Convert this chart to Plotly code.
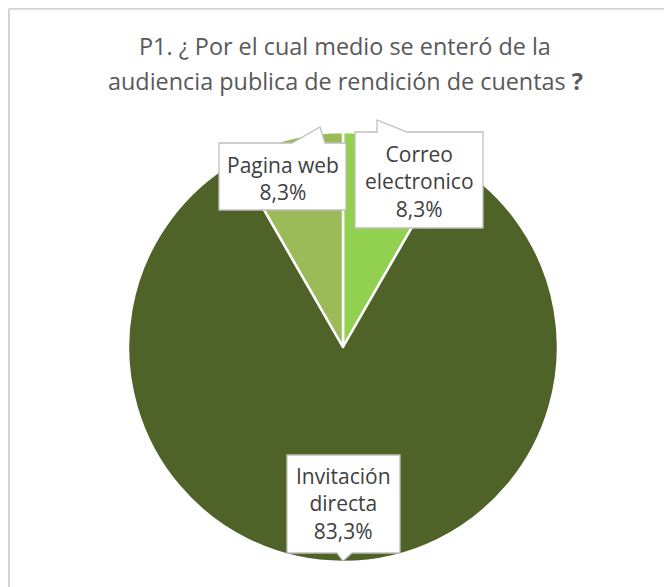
import plotly.graph_objects as go

# datos del grafico
categorias = ["Correo<br>electronico", "Invitación<br>directa", "Pagina web"]
porcentajes = [8.3, 83.3, 8.3]
colores = ["#92D050", "#4F6228", "#9BBB59"]

titulo_1 = "P1. ¿ Por el cual medio se enteró de la"
titulo_2 = "audiencia publica de rendición de cuentas <b>?</b>"

# la pagina html deja 8px de margen en el body
OFF = 8
W, H = 672 - OFF, 587 - OFF


def px(x):
    return (x - OFF) / W


def py(y):
    return 1 - (y - OFF) / H


fig = go.Figure()
fig.add_trace(go.Pie(
    labels=categorias,
    values=porcentajes,
    marker=dict(colors=colores, line=dict(color="white", width=2.5)),
    sort=False,
    direction="clockwise",
    rotation=0,
    textinfo="none",
    hoverinfo="label+percent",
    showlegend=False,
    domain=dict(x=[px(128), px(558)], y=[py(562), py(132)]),
))

# callouts: caja + punta (en pixeles de la imagen), mismo orden que categorias
callouts = [
    (355, 132, 483, 228, [(377, 132), (377, 120), (407, 132)]),
    (287, 455, 400, 553, [(337, 553), (343, 561), (352, 553)]),
    (219, 143, 346, 210, [(292, 143), (320, 127), (325, 143)]),
]
centros = [(419, 181), (343.5, 503), (282.5, 178)]

shapes = []
for (x0, y0, x1, y1, punta) in callouts:
    (ax, ay), (tx, ty), (bx, by) = punta
    if ay == y0:
        pts = [(x0, y0), (ax, ay), (tx, ty), (bx, by), (x1, y0), (x1, y1), (x0, y1)]
    else:
        pts = [(x0, y0), (x1, y0), (x1, y1), (bx, by), (tx, ty), (ax, ay), (x0, y1)]
    path = "M " + " L ".join(f"{px(x):.5f},{py(y):.5f}" for x, y in pts) + " Z"
    shapes.append(dict(type="path", path=path, xref="paper", yref="paper",
                       fillcolor="white", line=dict(color="#BFBFBF", width=1.3),
                       layer="above"))

# borde del area del grafico (solo se ven el lado superior e izquierdo)
borde = dict(color="#D4D4D4", width=2)
shapes.append(dict(type="line", xref="paper", yref="paper",
                   x0=0.0015, y0=0.9985, x1=1, y1=0.9985, line=borde))
shapes.append(dict(type="line", xref="paper", yref="paper",
                   x0=0.0015, y0=0.9985, x1=0.0015, y1=0, line=borde))

annotations = []
for lab, val, (cx, cy) in zip(categorias, porcentajes, centros):
    txt = f"{lab}<br>{val:.1f}%".replace(".", ",")
    annotations.append(dict(text=txt, x=px(cx), y=py(cy), xref="paper", yref="paper",
                            showarrow=False, xanchor="center", yanchor="middle",
                            font=dict(family="Open Sans", size=21, color="#404040")))

for txt, yy in [(titulo_1, 46), (titulo_2, 81)]:
    annotations.append(dict(text=txt, x=px(345), y=py(yy), xref="paper", yref="paper",
                            showarrow=False, xanchor="center", yanchor="middle",
                            font=dict(family="Open Sans", size=23.4, color="#595959")))

fig.update_layout(
    width=W, height=H,
    margin=dict(l=0, r=0, t=0, b=0),
    paper_bgcolor="white",
    plot_bgcolor="white",
    shapes=shapes,
    annotations=annotations,
)

fig.write_html("out.html")
